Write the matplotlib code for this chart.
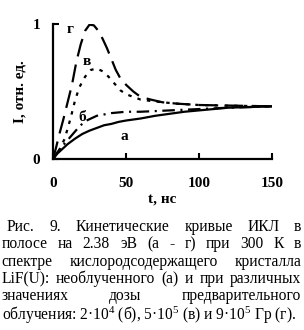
import matplotlib
matplotlib.use('Agg')
import matplotlib.pyplot as plt

plt.rcParams['font.family'] = ['Liberation Serif', 'DejaVu Serif']
plt.rcParams['mathtext.fontset'] = 'custom'
plt.rcParams['mathtext.rm'] = 'Liberation Serif'
plt.rcParams['mathtext.it'] = 'Liberation Serif:italic'
plt.rcParams['mathtext.bf'] = 'Liberation Serif:bold'
plt.rcParams['lines.scale_dashes'] = False

# curve a (unirradiated)
t_a = [0, 3, 6, 10, 15, 20, 25, 30, 35, 40, 45, 50, 60, 70, 80, 90, 100, 110, 120, 135, 150]
i_a = [0, 0.04, 0.07, 0.11, 0.15, 0.185, 0.21, 0.23, 0.25, 0.26, 0.275, 0.285, 0.30, 0.32,
       0.335, 0.35, 0.36, 0.37, 0.38, 0.385, 0.39]
# curve b (2e4 Gy)
t_b = [0, 3, 6, 10, 14, 18, 22, 26, 30, 35, 40, 50, 60, 70, 80, 90, 100, 120, 150]
i_b = [0, 0.05, 0.09, 0.14, 0.19, 0.24, 0.28, 0.30, 0.32, 0.33, 0.34, 0.35, 0.35, 0.355,
       0.36, 0.365, 0.37, 0.38, 0.39]
# curve v (5e5 Gy)
t_v = [0, 4, 8, 12, 15, 18, 22, 26, 30, 34, 38, 42, 46, 50, 55, 60, 67, 75, 85, 100, 120, 150]
i_v = [0, 0.06, 0.15, 0.30, 0.43, 0.53, 0.61, 0.66, 0.67, 0.65, 0.61, 0.56, 0.51, 0.48,
       0.46, 0.44, 0.43, 0.42, 0.41, 0.40, 0.395, 0.39]
# curve g (9e5 Gy)
t_g = [0, 2, 4, 7, 10, 13, 16, 19, 22, 25, 28, 31, 34, 37, 40, 43, 46, 50, 55, 60, 67,
       75, 85, 100, 125, 150]
i_g = [0, 0.08, 0.17, 0.29, 0.42, 0.55, 0.72, 0.85, 0.95, 0.995, 0.99, 0.95, 0.89, 0.82,
       0.74, 0.66, 0.60, 0.55, 0.50, 0.46, 0.44, 0.42, 0.41, 0.40, 0.395, 0.39]

curve_labels = ['г', 'в', 'б', 'а']
label_pos = [(11.7, 0.96), (23.4, 0.72), (19.9, 0.31), (48.9, 0.17)]

caption = [
    ['Рис.', '9.', 'Кинетические', 'кривые', 'ИКЛ', 'в'],
    ['полосе', 'на', '2.38', 'эВ', '(а', '-', 'г)', 'при', '300', 'К', 'в'],
    ['спектре', 'кислородсодержащего', 'кристалла'],
    ['LiF(U):', 'необлученного', '(а)', 'и', 'при', 'различных'],
    ['значениях', 'дозы', 'предварительного'],
]
last_line = r'облучения: 2·10$^{\mathrm{4}}$ (б), 5·10$^{\mathrm{5}}$ (в) и 9·10$^{\mathrm{5}}$ Гр (г).'

W, H = 304, 330
fig = plt.figure(figsize=(W / 100, H / 100), dpi=100)
ax = fig.add_axes([53 / W, 1 - 159 / H, (272 - 53) / W, (159 - 24) / H])

ax.plot(t_a, i_a, color='black', lw=1.6)
ax.plot(t_b, i_b, color='black', lw=1.6, dashes=(9, 4, 1.5, 4))
ax.plot(t_v, i_v, color='black', lw=1.6, dashes=(2.5, 4.5))
ax.plot(t_g, i_g, color='black', lw=1.6, dashes=(13, 6))

for lab, (x, y) in zip(curve_labels, label_pos):
    ax.text(x, y, lab, fontsize=11, fontweight='bold', ha='center', va='center')

ax.set_xlim(0, 150)
ax.set_ylim(0, 1)
ax.spines['top'].set_visible(False)
ax.spines['right'].set_visible(False)
ax.spines['left'].set_linewidth(1.6)
ax.spines['bottom'].set_linewidth(1.6)

ax.set_xticks([0, 50, 100, 150])
ax.set_xticklabels(['0', '50', '100', '150'], fontsize=11, fontweight='bold')
ax.set_yticks([0, 1])
ax.set_yticklabels(['0', '1'], fontsize=11, fontweight='bold')
ax.tick_params(axis='x', direction='in', length=4.5, width=1.5, pad=13)
ax.tick_params(axis='y', direction='in', length=4.5, width=1.5, pad=9)

ax.set_ylabel('I, отн. ед.', fontsize=11, fontweight='bold')
ax.set_xlabel('t, нс', fontsize=11, fontweight='bold', labelpad=2)
ax.yaxis.set_label_coords(-0.12, 0.5)

# justified caption
fs = 11.2
left, right = 1.5, 301.5
baselines = [231, 248.5, 266, 283, 299.5, 320]
fig.canvas.draw()
r = fig.canvas.get_renderer()
for k, words in enumerate(caption):
    x0 = 7 if k == 0 else left
    texts = [fig.text(0, 1 - baselines[k] / H, w, fontsize=fs, va='baseline') for w in words]
    widths = [t.get_window_extent(r).width for t in texts]
    gap = (right - x0 - sum(widths)) / (len(words) - 1)
    x = x0
    for t, w in zip(texts, widths):
        t.set_x(x / W)
        x += w + gap
fig.text(left / W, 1 - baselines[5] / H, last_line, fontsize=fs, va='baseline')

fig.savefig('out.png', dpi=100)
